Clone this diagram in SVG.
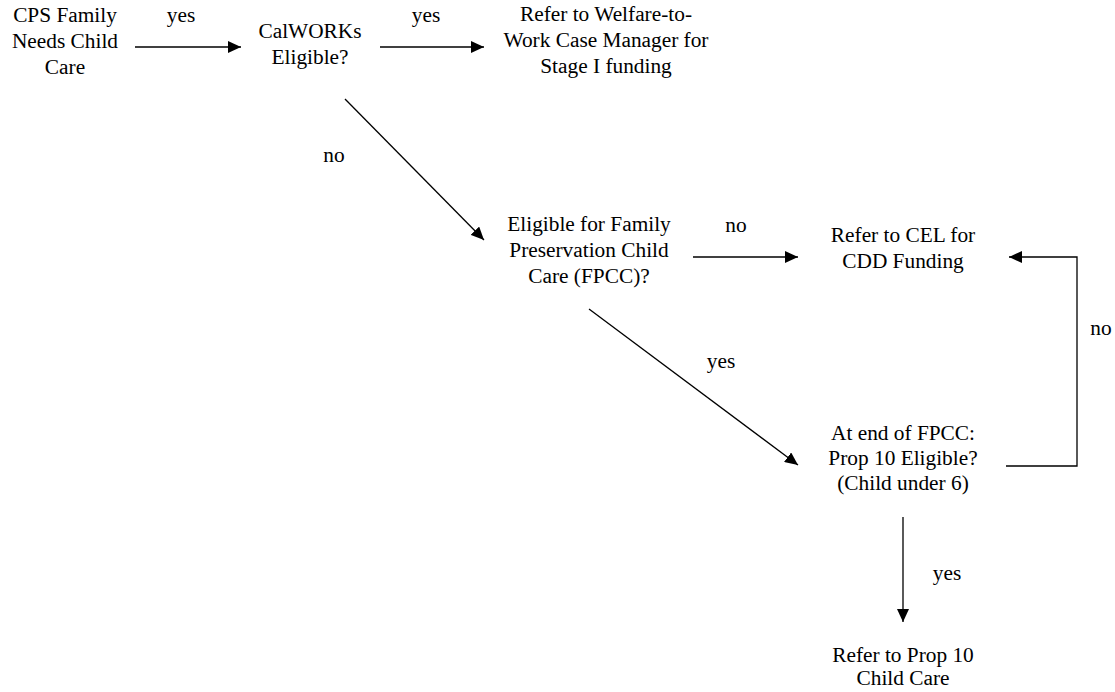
<svg xmlns="http://www.w3.org/2000/svg" width="1115" height="692" viewBox="0 0 1115 692">
<defs>
<marker id="ah" viewBox="0 0 13 12" refX="13" refY="6" markerWidth="13" markerHeight="12" markerUnits="userSpaceOnUse" orient="auto">
<path d="M0,0 L13,6 L0,12 Z" fill="#000"/>
</marker>
<style>
.c{stroke:#000;stroke-width:1.3;fill:none}
.a{marker-end:url(#ah)}
.t{font-family:'Liberation Serif',serif;font-size:21.33px;text-anchor:middle;fill:#000}
</style>
</defs>
<rect width="1115" height="692" fill="#fff"/>
<g id="connectors">
<line class="c a" x1="135" y1="47" x2="241" y2="47"/>
<line class="c a" x1="380" y1="47" x2="484" y2="47"/>
<line class="c a" x1="345" y1="99" x2="484" y2="240"/>
<line class="c a" x1="693" y1="257" x2="798" y2="257"/>
<line class="c a" x1="589" y1="309" x2="798" y2="465"/>
<polyline class="c a" points="1006,466 1077,466 1077,257 1009,257"/>
<line class="c a" x1="903" y1="517" x2="903" y2="622"/>
<text class="t" x="181" y="22">yes</text>
<text class="t" x="426" y="22">yes</text>
<text class="t" x="334" y="162">no</text>
<text class="t" x="736" y="232">no</text>
<text class="t" x="721" y="368">yes</text>
<text class="t" x="1101" y="335">no</text>
<text class="t" x="947" y="580">yes</text>
</g>
<g id="cps">
<text class="t" x="65" y="22">CPS Family</text>
<text class="t" x="65" y="48">Needs Child</text>
<text class="t" x="65" y="74">Care</text>
</g>
<g id="calworks">
<text class="t" x="310" y="38">CalWORKs</text>
<text class="t" x="310" y="64">Eligible?</text>
</g>
<g id="welfare">
<text class="t" x="606" y="21">Refer to Welfare-to-</text>
<text class="t" x="606" y="47">Work Case Manager for</text>
<text class="t" x="606" y="73">Stage I funding</text>
</g>
<g id="fpcc">
<text class="t" x="589" y="231">Eligible for Family</text>
<text class="t" x="589" y="257">Preservation Child</text>
<text class="t" x="589" y="283">Care (FPCC)?</text>
</g>
<g id="cel">
<text class="t" x="903" y="242">Refer to CEL for</text>
<text class="t" x="903" y="268">CDD Funding</text>
</g>
<g id="prop10q">
<text class="t" x="903" y="440">At end of FPCC:</text>
<text class="t" x="903" y="465">Prop 10 Eligible?</text>
<text class="t" x="903" y="490">(Child under 6)</text>
</g>
<g id="prop10">
<text class="t" x="903" y="662">Refer to Prop 10</text>
<text class="t" x="903" y="685">Child Care</text>
</g>
</svg>
